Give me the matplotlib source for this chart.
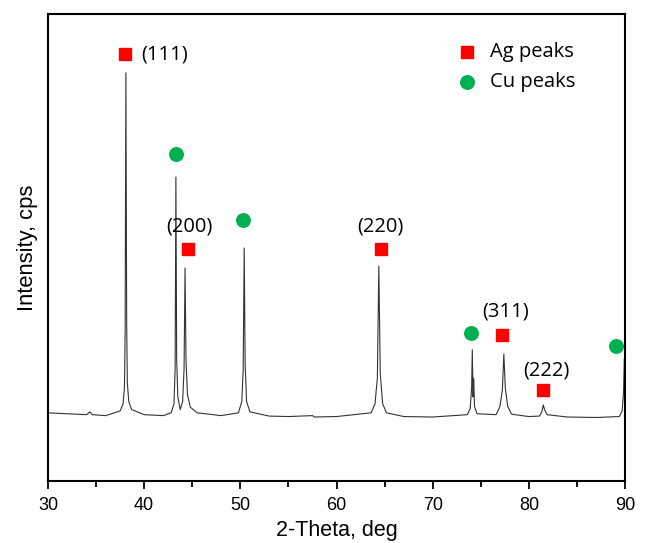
import numpy as np
import matplotlib.pyplot as plt
from matplotlib.ticker import MultipleLocator

# XRD pattern (arbitrary intensity units, 0-100 axis)
two_theta = [30, 32, 34, 34.35, 34.6, 36, 37.5, 37.8, 37.95, 38.02, 38.1, 38.18, 38.25, 38.4, 38.7,
             40, 42, 42.8, 43.1, 43.22, 43.3, 43.38, 43.5, 43.75, 44.0, 44.15, 44.25, 44.35, 44.5, 44.8,
             45.5, 48, 49.8, 50.15, 50.3, 50.4, 50.5, 50.65, 51.0, 53, 55, 57.5, 57.7, 60,
             63.6, 64.0, 64.25, 64.4, 64.55, 64.8, 65.2, 67, 70,
             73.6, 73.9, 74.05, 74.12, 74.2, 74.27, 74.35, 74.6,
             76.6, 77.0, 77.25, 77.4, 77.55, 77.8, 78.2,
             80, 81.1, 81.35, 81.5, 81.65, 81.9, 84, 87, 89.4, 89.7, 89.85, 89.93, 90]
intensity = [14.6, 14.4, 14.2, 14.8, 14.2, 14.0, 15.0, 16.5, 20, 32, 87.4, 34, 21, 17, 15.3,
             14.2, 14.0, 14.6, 16.5, 24, 65.1, 26, 18, 15.3, 17, 24, 45.6, 26, 18.5, 15.8,
             14.6, 14.0, 14.6, 17, 24, 49.9, 25, 17, 14.8, 13.9, 13.8, 14.0, 13.7, 13.8,
             14.6, 16.5, 22, 46.0, 23, 16.5, 14.6, 13.8, 13.7,
             14.2, 15.5, 20, 28.1, 18, 22, 16, 14.4,
             14.2, 16, 19.5, 27.2, 20, 16, 14.3,
             13.8, 13.9, 14.8, 16.3, 15.2, 14.2, 13.7, 13.6, 13.8, 15, 19, 26.3, 22]

# marker positions and hkl labels
ag_x = [38.0, 44.6, 64.6, 77.2, 81.5]
ag_y = [91.4, 49.7, 49.7, 31.3, 19.5]
cu_x = [43.3, 50.3, 74.0, 89.1]
cu_y = [70.0, 55.9, 31.7, 28.9]
hkl = ['(111)', '(200)', '(220)', '(311)', '(222)']
hkl_x = [42.1, 44.7, 64.6, 77.6, 81.8]
hkl_y = [91.4, 54.4, 54.4, 36.4, 23.6]

fig = plt.figure(figsize=(6.46, 5.43), dpi=100)
ax = fig.add_axes([0.0743, 0.1142, 0.8932, 0.86])

ax.plot(two_theta, intensity, color='#333333', lw=0.8)
ax.scatter(ag_x, ag_y, marker='s', s=85, color='#ff0000', zorder=3)
ax.scatter(cu_x, cu_y, marker='o', s=95, color='#00b050', zorder=3)
for lab, x, y in zip(hkl, hkl_x, hkl_y):
    ax.text(x, y, lab, ha='center', va='center', fontsize=14.5, family='Open Sans')

# legend drawn as plain marks
ax.scatter([73.6], [91.9], marker='s', s=85, color='#ff0000')
ax.scatter([73.6], [85.4], marker='o', s=95, color='#00b050')
ax.text(76.0, 91.9, 'Ag peaks', va='center', fontsize=14.5, family='Open Sans')
ax.text(76.0, 85.4, 'Cu peaks', va='center', fontsize=14.5, family='Open Sans')

ax.set_xlim(30, 90)
ax.set_ylim(0, 100)
ax.xaxis.set_major_locator(MultipleLocator(10))
ax.xaxis.set_minor_locator(MultipleLocator(5))
ax.set_yticks([])
ax.tick_params(axis='x', which='major', length=5.8, width=1.3, labelsize=13, pad=5.5)
ax.tick_params(axis='x', which='minor', length=4, width=1.3)
for lbl in ax.get_xticklabels():
    lbl.set_family('Liberation Sans')
for s in ax.spines.values():
    s.set_linewidth(1.5)

ax.set_xlabel('2-Theta, deg', fontsize=15.5, family='Liberation Sans', labelpad=4.5)
ax.set_ylabel('Intensity, cps', fontsize=15.8, family='Liberation Sans', labelpad=7)

fig.savefig('out.png', dpi=100)
